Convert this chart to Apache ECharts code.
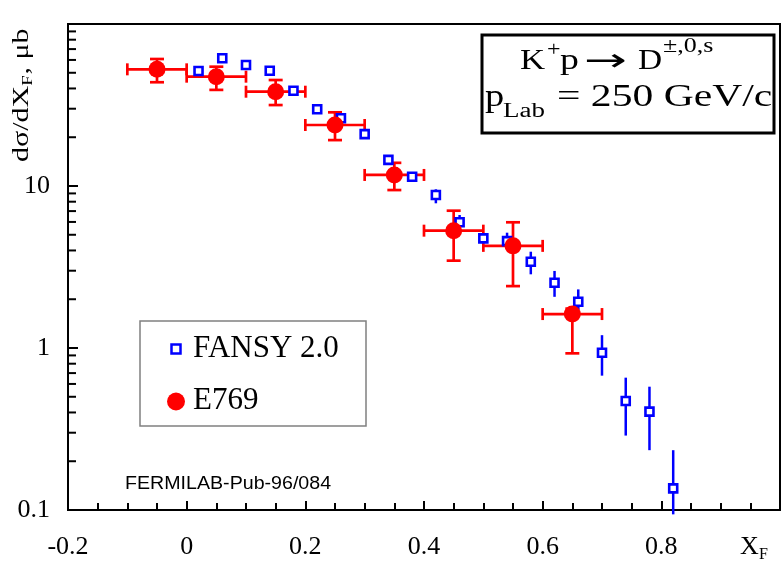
<!DOCTYPE html>
<html><head><meta charset="utf-8">
<script src="https://cdn.jsdelivr.net/npm/echarts@6/dist/echarts.min.js"></script>
<style>html,body{margin:0;padding:0;background:#fff}#c{width:783px;height:564px}</style>
</head><body><div id="c"></div>
<script>
// ---- data ----
const xTickLabels = ['-0.2', '0', '0.2', '0.4', '0.6', '0.8'];
const yTickLabels = ['0.1', '1', '10'];
const yMinorTicks = [0.2,0.3,0.4,0.5,0.6,0.7,0.8,0.9, 2,3,4,5,6,7,8,9, 20,30,40,50,60,70,80,90];

const fansyX    = [0.02, 0.06, 0.10, 0.14, 0.18, 0.22, 0.26, 0.30, 0.34, 0.38, 0.42, 0.46, 0.50, 0.54, 0.58, 0.62, 0.66, 0.70, 0.74, 0.78, 0.82];
const fansyY    = [51.3, 61.4, 55.8, 51.5, 38.7, 29.8, 26.2, 20.9, 14.5, 11.4, 8.80, 5.97, 4.75, 4.57, 3.41, 2.53, 1.93, 0.935, 0.471, 0.405, 0.136];
const fansyHigh = [53.0, 63.0, 57.5, 53.0, 39.8, 30.7, 27.0, 21.6, 15.1, 12.0, 9.54, 6.62, 5.00, 5.15, 3.93, 2.99, 2.30, 1.20, 0.656, 0.577, 0.234];
const fansyLow  = [49.7, 59.6, 54.1, 50.0, 37.6, 28.9, 25.4, 20.2, 13.9, 10.8, 7.82, 5.40, 4.50, 4.10, 2.85, 2.07, 1.72, 0.675, 0.288, 0.234, 0.094];

const e769X    = [-0.05, 0.05, 0.15, 0.25, 0.35, 0.45, 0.55, 0.65];
const e769XErr = [0.05, 0.05, 0.05, 0.05, 0.05, 0.05, 0.05, 0.05];
const e769Y    = [52.5, 47.3, 38.2, 23.8, 11.7, 5.30, 4.27, 1.62];
const e769High = [60.8, 54.5, 45.1, 28.5, 13.9, 7.04, 5.97, 1.75];
const e769Low  = [43.7, 39.2, 31.6, 19.2, 9.44, 3.46, 2.41, 0.927];

// ---- build ----
const SERIF = '"Liberation Serif", "Times New Roman", serif';
const SANS = '"Liberation Sans", Arial, sans-serif';
const RED = '#ff0000', BLUE = '#0000ff';

const fansyPts = fansyX.map((x, i) => [x, fansyY[i]]);
const fansyErr = fansyX.map((x, i) => [x, fansyY[i], fansyLow[i], fansyHigh[i]]);
const e769Pts = e769X.map((x, i) => [x, e769Y[i]]);
const e769Err = e769X.map((x, i) => [x, e769Y[i], x - e769XErr[i], x + e769XErr[i], e769Low[i], e769High[i]]);
const minorTickData = yMinorTicks.map(v => [-0.2, v]);

function redErr(params, api) {
  const x = api.value(0), y = api.value(1);
  const c = api.coord([x, y]);
  const l = api.coord([api.value(2), y]), r = api.coord([api.value(3), y]);
  const lo = api.coord([x, api.value(4)]), hi = api.coord([x, api.value(5)]);
  const st = { stroke: RED, lineWidth: 2.7, fill: null };
  const cw = 7, ch = 6;
  return { type: 'group', children: [
    { type: 'line', shape: { x1: l[0], y1: c[1], x2: r[0], y2: c[1] }, style: st },
    { type: 'line', shape: { x1: l[0], y1: c[1] - ch, x2: l[0], y2: c[1] + ch }, style: st },
    { type: 'line', shape: { x1: r[0], y1: c[1] - ch, x2: r[0], y2: c[1] + ch }, style: st },
    { type: 'line', shape: { x1: c[0], y1: lo[1], x2: c[0], y2: hi[1] }, style: st },
    { type: 'line', shape: { x1: c[0] - cw, y1: lo[1], x2: c[0] + cw, y2: lo[1] }, style: st },
    { type: 'line', shape: { x1: c[0] - cw, y1: hi[1], x2: c[0] + cw, y2: hi[1] }, style: st }
  ]};
}
function blueErr(params, api) {
  const x = api.value(0);
  const lo = api.coord([x, api.value(2)]), hi = api.coord([x, api.value(3)]);
  return { type: 'line', shape: { x1: lo[0], y1: lo[1], x2: hi[0], y2: hi[1] }, style: { stroke: BLUE, lineWidth: 2.5 } };
}
function minorTick(params, api) {
  const p = api.coord([api.value(0), api.value(1)]);
  return { type: 'line', shape: { x1: p[0], y1: p[1], x2: p[0] + 8, y2: p[1] }, style: { stroke: '#000', lineWidth: 2 } };
}

function txt(text, x, y, size, opt) {
  opt = opt || {};
  return { type: 'text', x: x, y: y, scaleX: opt.sx || 1, rotation: opt.rot || 0, z: 100,
    style: { text: text, x: 0, y: 0, font: (opt.weight || 'normal') + ' ' + size + 'px ' + (opt.family || SERIF),
      fill: '#000', textAlign: opt.align || 'left', textVerticalAlign: 'middle', verticalAlign: 'middle' } };
}

const chart = echarts.init(document.getElementById('c'));
chart.setOption({
  animation: false,
  backgroundColor: '#fff',
  grid: { left: 68, right: 3, top: 24, bottom: 54, show: true, borderColor: '#000', borderWidth: 2, backgroundColor: 'transparent' },
  xAxis: {
    type: 'value', min: -0.2, max: 1.0, interval: 0.2,
    axisLine: { show: true, onZero: false, lineStyle: { color: '#000', width: 2 } },
    axisTick: { show: true, inside: true, length: 9, lineStyle: { color: '#000', width: 2 } },
    minorTick: { show: true, splitNumber: 4, length: 7, lineStyle: { color: '#000', width: 2 } },
    splitLine: { show: false },
    axisLabel: { margin: 24, fontFamily: SERIF, fontSize: 26, color: '#000',
      formatter: v => { const i = Math.round((v + 0.2) / 0.2); return xTickLabels[i] !== undefined ? xTickLabels[i] : ''; } }
  },
  yAxis: {
    type: 'log', logBase: 10, min: 0.1, max: 100,
    axisLine: { show: true, onZero: false, lineStyle: { color: '#000', width: 2 } },
    axisTick: { show: true, inside: true, length: 10, lineStyle: { color: '#000', width: 2 } },
    splitLine: { show: false },
    axisLabel: { margin: 18, fontFamily: SERIF, fontSize: 26, color: '#000',
      formatter: v => { const e = Math.round(Math.log10(v)); return yTickLabels[e + 1] !== undefined ? yTickLabels[e + 1] : ''; } }
  },
  series: [
    { type: 'custom', name: 'minorTicks', data: minorTickData, renderItem: minorTick, silent: true, z: 1 },
    { type: 'custom', name: 'E769 err', data: e769Err, renderItem: redErr, encode: { x: 0, y: 1 }, z: 2, clip: false },
    { type: 'custom', name: 'FANSY err', data: fansyErr, renderItem: blueErr, encode: { x: 0, y: 1 }, z: 3, clip: false },
    { type: 'scatter', name: 'FANSY 2.0', data: fansyPts, symbol: 'rect', symbolSize: 8, z: 4,
      itemStyle: { color: '#fff', borderColor: BLUE, borderWidth: 2.6, opacity: 1 } },
    { type: 'scatter', name: 'E769', data: e769Pts, symbol: 'circle', symbolSize: 17, z: 5,
      itemStyle: { color: RED, opacity: 1 } }
  ],
  graphic: [
    // legend box
    { type: 'rect', shape: { x: 140, y: 321, width: 226, height: 105 }, style: { fill: '#fff', stroke: '#808080', lineWidth: 1.5 }, z: 90 },
    { type: 'rect', shape: { x: 171.5, y: 344.5, width: 9, height: 9 }, style: { fill: '#fff', stroke: BLUE, lineWidth: 2.5 }, z: 91 },
    { type: 'circle', shape: { cx: 176, cy: 401.5, r: 9 }, style: { fill: RED }, z: 91 },
    txt('FANSY 2.0', 193, 349, 31),
    txt('E769', 193, 401, 31),
    // title box
    { type: 'rect', shape: { x: 482, y: 35, width: 292, height: 98 }, style: { fill: '#fff', stroke: '#000', lineWidth: 3 }, z: 90 },
    txt('K', 520, 61, 29, { sx: 1.2 }),
    txt('+', 547, 51, 20, { sx: 1.2 }),
    txt('p', 560, 61, 29, { sx: 1.3 }),
    txt('\u2192', 584, 63, 32, { sx: 1.6, family: '"DejaVu Sans", sans-serif' }),
    txt('D', 638, 61, 29, { sx: 1.15 }),
    txt('\u00b1,0,s', 663, 47, 20, { sx: 1.3 }),
    txt('p', 485, 98, 32, { sx: 1.2 }),
    txt('Lab', 503, 112, 20, { sx: 1.35 }),
    txt('= 250 GeV/c', 557, 98, 32, { sx: 1.3 }),
    // FERMILAB note
    txt('FERMILAB-Pub-96/084', 125, 484, 18, { sx: 1.09, family: SANS }),
    // x axis name
    txt('X', 740, 547, 26),
    txt('F', 759, 555, 16),
    // y axis name (rotated)
    { type: 'group', x: 22, y: 162, rotation: Math.PI / 2, scaleX: 1.25, z: 100, children: [
      txt('d\u03c3/dX', 0, 0, 24),
      txt('F', 61, 6, 15),
      txt(', \u03bcb', 70, 0, 24)
    ]}
  ]
});
</script>
</body></html>
